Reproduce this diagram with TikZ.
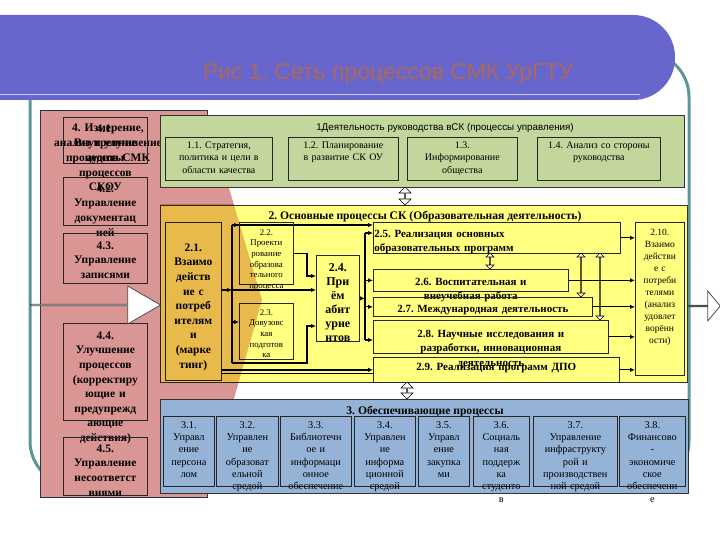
\documentclass[tikz,border=0pt]{standalone}
\usepackage{fontspec}
\setmainfont{Liberation Serif}
\setsansfont{Liberation Sans}
\frenchspacing
\usetikzlibrary{shapes.arrows, arrows.meta, calc}
\definecolor{bannerblue}{RGB}{102,102,204}
\definecolor{titlebrown}{RGB}{172,104,92}
\definecolor{frameteal}{RGB}{92,150,150}
\definecolor{measpink}{RGB}{217,150,148}
\definecolor{mgmtgreen}{RGB}{195,214,155}
\definecolor{coreyellow}{RGB}{255,255,128}
\definecolor{supblue}{RGB}{149,179,215}
\definecolor{wedgetint}{RGB}{232,185,150}
\pgfdeclarelayer{panels}
\pgfdeclarelayer{links}
\pgfsetlayers{panels,links,main}
\tikzset{
    panel/.style={rectangle, draw=black!80, line width=0.7pt, anchor=north west, inner sep=0pt},
    cell/.style={rectangle, draw=black!85, line width=0.7pt, anchor=north west, inner xsep=1pt, inner ysep=2pt, align=center},
    sz/.code n args={3}{%
        \pgfmathsetmacro\cellw{#1-2}%
        \pgfmathsetmacro\cellt{#3-2}%
        \pgfmathsetmacro\celld{#2-2-#3}%
        \edef\cellset{\noexpand\tikzset{text width=\cellw pt, text height=\cellt pt, text depth=\celld pt}}%
        \cellset},
    pinktxt/.style={font=\bfseries\fontsize{11.5}{14.6}\selectfont},
    greentxt/.style={font=\fontsize{10}{12.5}\selectfont},
    yellowtxt/.style={font=\bfseries\fontsize{11}{14.5}\selectfont},
    smalltxt/.style={font=\fontsize{8.8}{10.6}\selectfont},
    bluetxt/.style={font=\fontsize{10.3}{12.3}\selectfont},
    headtxt/.style={font=\bfseries\fontsize{11.6}{13}\selectfont, anchor=base},
}

\begin{document}
\begin{tikzpicture}[x=1pt, y=-1pt,
    link/.style={line width=1.1pt, black},
    linkarr/.style={link, -{Latex[length=5pt, width=4.5pt]}},
    hollowdbl/.style={double arrow, draw=black, fill=white, line width=0.6pt, inner sep=0pt, shape border rotate=90, double arrow head extend=2.5pt},
    hollowone/.style={single arrow, draw=black!70, fill=white, line width=0.8pt, inner sep=0pt, single arrow head indent=0pt}
]
\useasboundingbox (0,0) rectangle (720,540);

\begin{pgfonlayer}{panels}
% frame and title banner
\draw[frameteal, line width=3pt, rounded corners=45pt] (30,52) rectangle (689,486);
\fill[bannerblue, rounded corners=42pt] (-60,15) rectangle (675,100);
\draw[bannerblue!35!white, line width=0.8pt] (0,94) -- (640,94);
\node[font=\sffamily\fontsize{23}{26}\selectfont, text=titlebrown, anchor=base] (title) at (388,80) {Рис 1. Сеть процессов СМК УрГТУ};

% 4: measurement panel with its pointer
\node[panel, fill=measpink, minimum width=167pt, minimum height=387pt] (p4) at (40,110) {};
\fill[measpink] (206,110) -- (262,300) -- (206,497) -- cycle;
\node[pinktxt, text width=140pt, align=center, anchor=base] (t4) at (108,132) {4. Измерение,\\анализ и улучшение\\процессов СМК};

% 1: management panel
\node[panel, fill=mgmtgreen, minimum width=524pt, minimum height=72pt] (p1) at (160,115) {};
\node[font=\sffamily\fontsize{9.8}{11}\selectfont, anchor=base] (t1) at (445,131) {1Деятельность руководства вСК (процессы управления)};

% 3: support panel
\node[panel, fill=supblue, minimum width=528pt, minimum height=94pt] (p3) at (160,399) {};
\node[headtxt] (t3) at (425,414) {3. Обеспечивающие процессы};

% 2: core panel
\node[panel, fill=coreyellow, minimum width=527pt, minimum height=177pt] (p2) at (160,205) {};
\node[headtxt] (t2) at (425,219) {2. Основные процессы СК (Образовательная деятельность)};
\end{pgfonlayer}

% 4.x boxes
\node[cell, pinktxt, sz={84}{46}{15}] (p41) at (63,117) {4.1.\\Внутренние\\аудиты\\процессов\\СКОУ};
\node[cell, pinktxt, sz={84}{48}{15}] (p42) at (63,177) {4.2.\\Управление\\документац\\ией};
\node[cell, pinktxt, sz={84}{50}{16}] (p43) at (63,233) {4.3.\\Управление\\записями};
\node[cell, pinktxt, sz={84}{97}{16}] (p44) at (63,323) {4.4.\\Улучшение\\процессов\\(корректиру\\ющие и\\предупрежд\\ающие\\действия)};
\node[cell, pinktxt, sz={84}{58}{15}] (p45) at (63,437) {4.5.\\Управление\\несоответст\\виями};

% 1.x boxes
\node[cell, greentxt, sz={107}{43}{11}] (g11) at (165,137) {1.1. Стратегия,\\политика и цели в\\области качества};
\node[cell, greentxt, sz={110}{43}{11}] (g12) at (288,137) {1.2. Планирование\\в развитие СК ОУ};
\node[cell, greentxt, sz={110}{43}{11}] (g13) at (407,137) {1.3.\\Информирование\\общества};
\node[cell, greentxt, sz={123}{43}{11}] (g14) at (537,137) {1.4. Анализ со стороны\\руководства};

% 2.x boxes
\node[cell, pinktxt, sz={56}{158}{29}] (y21) at (165,222) {2.1.\\Взаимо\\действ\\ие с\\потреб\\ителям\\и\\(марке\\тинг)};
\node[cell, smalltxt, sz={54}{62}{13}] (y22) at (239,222) {2.2.\\Проекти\\рование\\образова\\тельного\\процесса};
\node[cell, smalltxt, sz={54}{56}{12}] (y23) at (239,303) {2.3.\\Довузовс\\кая\\подготов\\ка};
\node[cell, font=\bfseries\fontsize{12}{14}\selectfont, sz={43}{86}{16}] (y24) at (316,255) {2.4.\\При\\ём\\абит\\урие\\нтов};
\node[cell, yellowtxt, align=left, sz={247}{31}{15}] (y25) at (373,222) {2.5. Реализация основных\\образовательных программ};
\node[cell, yellowtxt, sz={195}{22}{16}] (y26) at (373,269) {2.6. Воспитательная и\\внеучебная работа};
\node[cell, yellowtxt, sz={219}{19}{15}] (y27) at (373,297) {2.7. Международная деятельность};
\node[cell, yellowtxt, sz={235}{33}{17}] (y28) at (373,320) {2.8. Научные исследования и\\разработки, инновационная\\деятельность};
\node[cell, yellowtxt, sz={246}{25}{13}] (y29) at (373,357) {2.9. Реализация программ ДПО};
\node[cell, font=\fontsize{9.5}{12}\selectfont, sz={49}{153}{13}] (y210) at (635,222) {2.10.\\Взаимо\\действи\\е с\\потреби\\телями\\(анализ\\удовлет\\ворённ\\ости)};

% 3.x boxes
\node[cell, bluetxt, sz={51}{70}{12}] (b31) at (163,416) {3.1.\\Управл\\ение\\персона\\лом};
\node[cell, bluetxt, sz={62}{70}{12}] (b32) at (216,416) {3.2.\\Управлен\\ие\\образоват\\ельной\\средой};
\node[cell, bluetxt, sz={71}{70}{12}] (b33) at (280,416) {3.3.\\Библиотечн\\ое и\\информаци\\онное\\обеспечение};
\node[cell, bluetxt, sz={61}{70}{12}] (b34) at (354,416) {3.4.\\Управлен\\ие\\информа\\ционной\\средой};
\node[cell, bluetxt, sz={51}{70}{12}] (b35) at (418,416) {3.5.\\Управл\\ение\\закупка\\ми};
\node[cell, bluetxt, sz={56}{70}{12}] (b36) at (473,416) {3.6.\\Социаль\\ная\\поддерж\\ка\\студенто\\в};
\node[cell, bluetxt, sz={84}{70}{12}] (b37) at (533,416) {3.7.\\Управление\\инфраструкту\\рой и\\производствен\\ной средой};
\node[cell, bluetxt, sz={66}{70}{12}] (b38) at (619,416) {3.8.\\Финансово\\-\\экономиче\\ское\\обеспечени\\е};

% connectors inside the core panel
\begin{pgfonlayer}{links}
\coordinate (busa) at (232,225);
\coordinate (busm) at (232,290);
\coordinate (busc) at (232,322);
\coordinate (busb) at (232,363);
\coordinate (jna) at (307,276);
\coordinate (jnb) at (307,326);
\coordinate (bus2a) at (365,233);
\coordinate (bus2b) at (365,340);
\coordinate (lo29) at ($(y29.west)+(0,4)$);
\draw[linkarr] (y21.east |- busm) -- (busm);
\draw[link] (busa) -- (busb);
\draw[linkarr] (busa) -- (busa -| y22.west);
\draw[linkarr] (busa) -- (busa -| y25.west);
\draw[linkarr] (busc) -- (busc -| y23.west);
\draw[linkarr] (busm) -- (busm -| y24.west);
\draw[linkarr] (y22.east) -| (jna) -- (jna -| y24.west);
\draw[linkarr] (busb) -| (jnb) -- (jnb -| y24.west);
\draw[linkarr] (y24.east) -- (y24.east -| bus2a);
\draw[link] (bus2a) -- (bus2b);
\draw[linkarr] (bus2a) -- (bus2a -| y25.west);
\draw[linkarr] (bus2a |- y26.west) -- (y26.west);
\draw[linkarr] (bus2a |- y27.west) -- (y27.west);
\draw[linkarr] (bus2b) -- (bus2b -| y28.west);
\draw[linkarr, line width=1.6pt] (y21.east |- y29.west) -- (y29.west);
\draw[link] (y21.east |- lo29) -- (lo29);
\foreach \k in {25,26,27,28,29}
    \draw[linkarr] (y\k.east) -- (y\k.east -| y210.west);
\end{pgfonlayer}

% hollow arrows
\node[hollowdbl, minimum height=18pt, minimum width=12pt] (d12) at (405,196) {};
\node[hollowdbl, minimum height=17pt, minimum width=12pt] (d23) at (407,390.5) {};
\node[hollowdbl, minimum height=16pt, minimum width=8pt] (d56) at (490,261) {};
\node[hollowdbl, minimum height=44pt, minimum width=8pt] (d57) at (581,275) {};
\node[hollowdbl, minimum height=67pt, minimum width=8pt] (d58) at (600,286.5) {};
\node[hollowone, minimum height=130pt, minimum width=38pt, single arrow head extend=10pt, single arrow tip angle=60] (arrin) at (95,305) {};
\node[hollowone, minimum height=32pt, minimum width=30pt, single arrow head extend=9pt, single arrow tip angle=100] (arrout) at (704,306) {};

% pink pointer seen through the core panel
\begin{scope}
\clip (p2.north west) rectangle (p2.south east);
\fill[wedgetint, blend mode=multiply] (150,105) -- (206,110) -- (262,300) -- (206,497) -- (150,497) -- cycle;
\end{scope}

\end{tikzpicture}
\end{document}
